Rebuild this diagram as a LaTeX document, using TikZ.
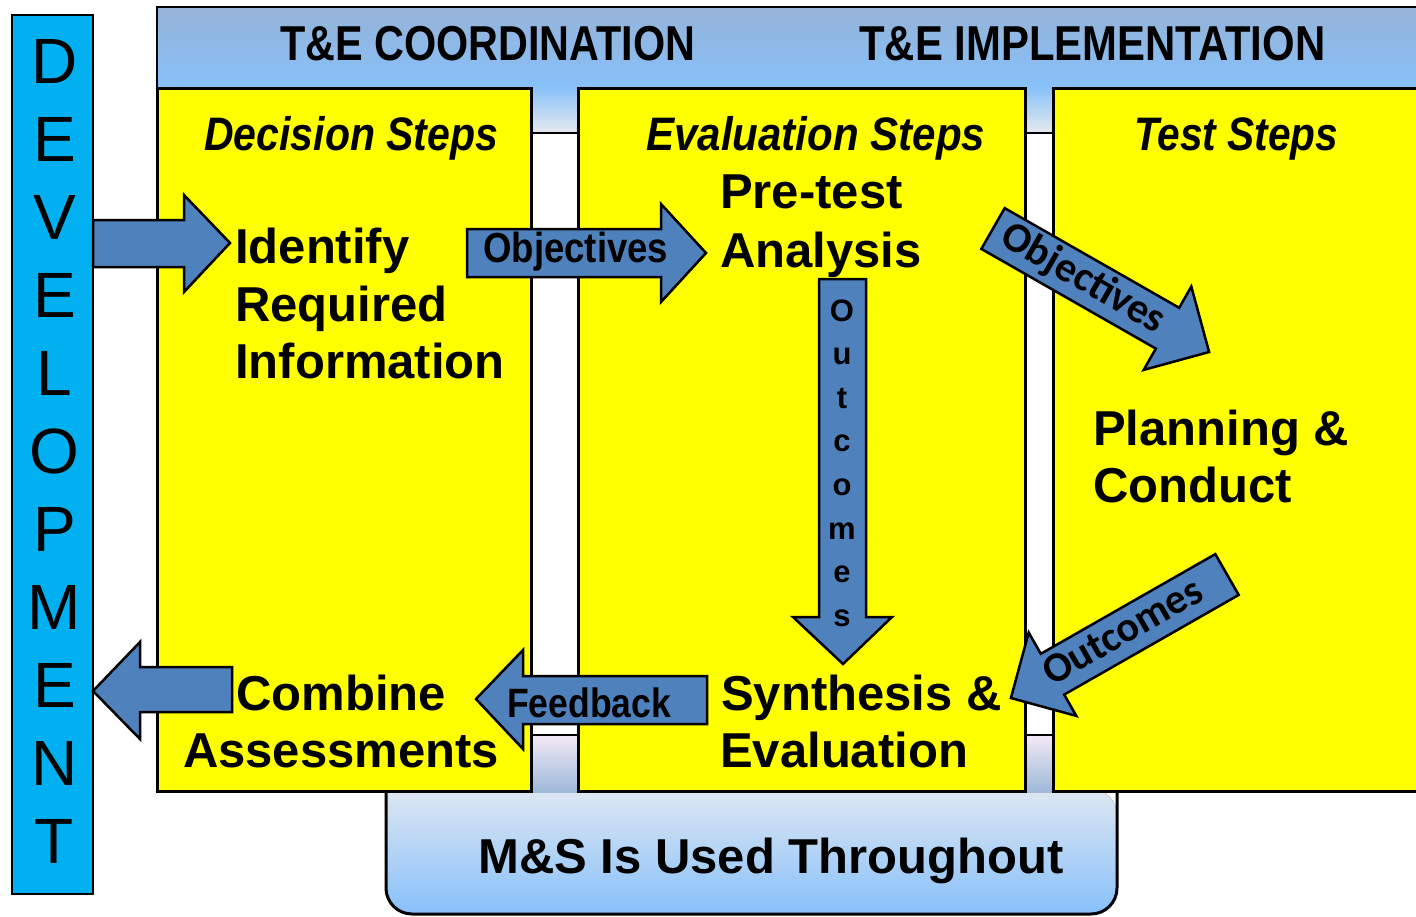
\documentclass[tikz,border=0pt]{standalone}
\usepackage{fontspec}
\usepackage{graphicx}
\setmainfont{Liberation Sans}
\newfontfamily\calfont{Carlito}
\definecolor{ylw}{RGB}{255,255,0}
\definecolor{arrowblue}{RGB}{79,129,189}
\definecolor{devblue}{RGB}{0,176,240}
\definecolor{hdrtop}{RGB}{149,179,215}
\definecolor{hdrmid}{RGB}{200,218,240}
\definecolor{sky}{RGB}{135,192,250}
\definecolor{pale}{RGB}{230,233,238}
\definecolor{lav}{RGB}{243,233,246}
\definecolor{tabbot}{RGB}{158,184,216}
\definecolor{boxtop}{RGB}{222,231,242}
\tikzset{
  stepbox/.style={fill=ylw, draw=black, line width=3pt},
  blockarrow/.style={fill=arrowblue, draw=black, line width=2.5pt, line join=miter},
  bigtxt/.style={font=\bfseries\fontsize{49}{58}\selectfont, inner sep=0pt, anchor=base west},
  hdrtxt/.style={font=\bfseries\fontsize{49}{49}\selectfont, inner sep=0pt, anchor=base west},
  stepstxt/.style={font=\bfseries\itshape\fontsize{47}{47}\selectfont, inner sep=0pt, anchor=base west},
  arrtxt/.style={font=\bfseries\fontsize{42}{42}\selectfont, inner sep=0pt, anchor=base west},
  diagtxt/.style={font=\calfont\bfseries\fontsize{42}{42}\selectfont, inner sep=0pt, anchor=center},
  devtxt/.style={font=\fontsize{64}{64}\selectfont, inner sep=0pt, anchor=base},
  vtxt/.style={font=\bfseries\fontsize{31}{31}\selectfont, inner sep=0pt, anchor=base},
}
\begin{document}
\begin{tikzpicture}[x=1pt,y=-1pt]
\useasboundingbox (0,0) rectangle (1416,916);
\clip (0,0) rectangle (1416,916);
% header band
\draw[line width=2pt, top color=hdrtop, middle color=hdrmid, bottom color=sky] (157,7) rectangle (1440,88);
% header tabs
\fill[top color=sky, bottom color=pale] (531,86) rectangle (578,133);
\fill[top color=sky, bottom color=pale] (1025,86) rectangle (1053,133);
\draw[line width=2.5pt] (531,133) -- (578,133);
\draw[line width=2.5pt] (1025,133) -- (1053,133);
% bottom box
\fill[top color=boxtop, middle color=sky, bottom color=sky, rounded corners=26pt] (386,789) -- (386,914) -- (1117,914) -- (1117,789) [sharp corners] -- cycle;
\draw[line width=3pt, rounded corners=26pt] (386,789) -- (386,914) -- (1117,914) -- (1117,789);
% bottom tabs
\fill[top color=lav, bottom color=tabbot] (531,735) rectangle (578,792);
\fill[top color=lav, bottom color=tabbot] (1025,735) rectangle (1053,792);
\draw[line width=2.5pt] (531,735) -- (578,735);
\draw[line width=2.5pt] (1025,735) -- (1053,735);
% yellow step boxes
\draw[stepbox] (157,88) rectangle (531,791);
\draw[stepbox] (578,88) rectangle (1025,791);
\draw[stepbox] (1053,88) rectangle (1440,791);
% development bar
\draw[fill=devblue, line width=2.5pt] (12,15) rectangle (93,894);
\foreach \l [count=\i from 0] in {D,E,V,E,L,O,P,M,E,N,T}
  \node[devtxt] (dev\i) at (54.5,{83+78*\i}) {\l};
% header texts
\node[hdrtxt] (coord) at (280,60) {\resizebox{415pt}{\height}{T\&E COORDINATION}};
\node[hdrtxt] (impl) at (859,60) {\resizebox{466pt}{\height}{T\&E IMPLEMENTATION}};
\node[stepstxt] (decs) at (204,150) {\resizebox{294pt}{\height}{Decision Steps}};
\node[stepstxt] (evals) at (646,150) {\resizebox{339pt}{\height}{Evaluation Steps}};
\node[stepstxt] (tests) at (1134,150) {\resizebox{204pt}{\height}{Test Steps}};
% arrows
\draw[blockarrow] (93,220) -- (184,220) -- (184,195) -- (230,243) -- (184,292) -- (184,267) -- (93,267) -- cycle;
\draw[blockarrow] (467,229) -- (661,229) -- (661,204) -- (706,253) -- (661,302) -- (661,277) -- (467,277) -- cycle;
\draw[blockarrow] (819,279) -- (866,279) -- (866,617) -- (892,617) -- (843,664) -- (793,617) -- (819,617) -- cycle;
\draw[blockarrow] (707,676) -- (523,676) -- (523,650) -- (476,699) -- (523,749) -- (523,724) -- (707,724) -- cycle;
\draw[blockarrow] (232,667) -- (140,667) -- (140,642) -- (93,691) -- (140,739) -- (140,712) -- (232,712) -- cycle;
\draw[blockarrow] (1004.7,208.1) -- (1179.2,307.8) -- (1191.3,286.5) -- (1209.1,352) -- (1143.7,369.9) -- (1155.8,348.6) -- (981.3,248.9) -- cycle;
\draw[blockarrow] (1215.3,554.1) -- (1040.8,653.8) -- (1028.7,632.5) -- (1010.9,698) -- (1076.3,715.9) -- (1064.2,694.6) -- (1238.7,594.9) -- cycle;
% arrow labels
\node[arrtxt] (obj1) at (483,262) {\resizebox{185pt}{\height}{Objectives}};
\node[arrtxt, font=\bfseries\fontsize{41}{41}\selectfont] (fb) at (507,717) {\resizebox{164pt}{\height}{Feedback}};
\node[diagtxt, rotate=-29.8] (obj2) at (1083,279) {Objectives};
\node[diagtxt, rotate=29.8] (out2) at (1122,631) {Outcomes};
\foreach \l [count=\i from 0] in {O,u,t,c,o,m,e,s}
  \node[vtxt] (out\i) at (842,{321+43.6*\i}) {\l};
% main texts
\node[bigtxt] (id1) at (235,263) {Identify};
\node[bigtxt] (id2) at (235,321) {Required};
\node[bigtxt] (id3) at (235,378) {Information};
\node[bigtxt] (pre1) at (720,208) {Pre-test};
\node[bigtxt] (pre2) at (720,267) {Analysis};
\node[bigtxt] (plan1) at (1093,445) {Planning \&};
\node[bigtxt] (plan2) at (1093,502) {Conduct};
\node[bigtxt] (syn1) at (721,710) {Synthesis \&};
\node[bigtxt] (syn2) at (720,767) {Evaluation};
\node[bigtxt, anchor=base] (comb1) at (341,710) {Combine};
\node[bigtxt, anchor=base] (comb2) at (341,767) {Assessments};
\node[bigtxt] (ms) at (478,873) {M\&S Is Used Throughout};
\end{tikzpicture}
\end{document}
